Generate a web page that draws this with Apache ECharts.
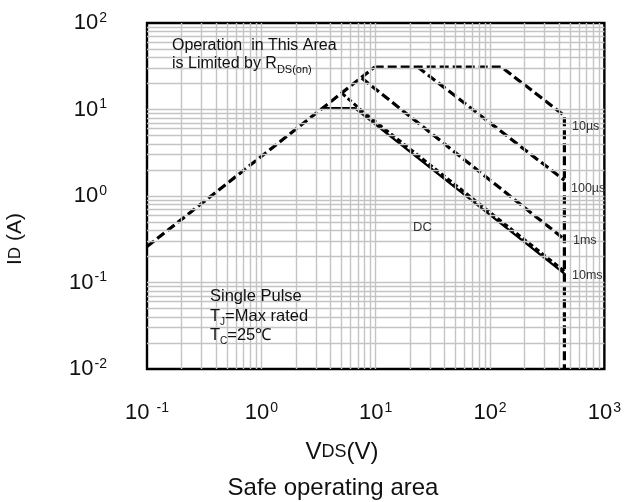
<!DOCTYPE html>
<html>
<head>
<meta charset="utf-8">
<script src="https://cdn.jsdelivr.net/npm/echarts@6/dist/echarts.min.js"></script>
<style>html,body{margin:0;padding:0;background:#fff}#c{width:624px;height:502px}</style>
</head>
<body>
<div id="c"></div>
<script>
// ---- data ----
const rdsV = [0.1, 9.8];
const rdsI = [0.26, 31];
const us10V = [9.8, 126, 447, 447];
const us10I = [31, 31, 8.5, 0.01];
const us100V = [23.3, 447];
const us100I = [31, 1.52];
const ms1V = [7.55, 447];
const ms1I = [23.1, 0.316];
const ms10V = [5.05, 7.6, 447];
const ms10I = [15.5, 9.6, 0.135];
const dcV = [3.44, 6.56, 447];
const dcI = [10.4, 10.4, 0.127];

const xTickVals = [0.1, 1, 10, 100, 1000];
const xTickExp = ['-1', '0', '1', '2', '3'];
const yTickVals = [0.01, 0.1, 1, 10, 100];
const yTickExp = ['-2', '-1', '0', '1', '2'];
const curveLabels = ['10µs', '100µs', '1ms', '10ms'];

// grid line positions (styling of the log grid)
const gridMult = [1, 2, 3, 4, 5, 6, 7, 8, 9];
function gridValues(lo, hi) {
  const out = [];
  for (let e = lo; e < hi; e++) gridMult.forEach(m => out.push(m * Math.pow(10, e)));
  return out;
}
const vLines = gridValues(-1, 3).slice(1);
const hLines = gridValues(-2, 2).slice(1);

const FONT = '"Liberation Sans", Arial, Helvetica, sans-serif';
const zip = (a, b) => a.map((v, i) => [v, b[i]]);

function idx(arr, v) {
  let best = 0, bd = Infinity;
  arr.forEach((a, i) => { const d = Math.abs(Math.log10(a) - Math.log10(v)); if (d < bd) { bd = d; best = i; } });
  return best;
}

const dashStyle = { color: '#000', width: 3.2, type: [9, 4], cap: 'butt' };

const chart = echarts.init(document.getElementById('c'), null, { renderer: 'canvas' });
chart.setOption({
  animation: false,
  backgroundColor: '#fff',
  grid: { left: 147, right: 19, top: 23, bottom: 133, show: true, borderColor: '#000', borderWidth: 2.4, backgroundColor: 'transparent', z: 5 },
  xAxis: {
    type: 'log', logBase: 10, min: 0.1, max: 1000,
    axisLine: { show: false }, axisTick: { show: false }, splitLine: { show: false },
    axisLabel: {
      margin: 32, color: '#111', fontFamily: FONT,
      formatter: v => { const i = idx(xTickVals, v); const e = xTickExp[i]; return '{b|' + (e === '-1' ? '10 ' : '10') + '}{s|' + e + '}'; },
      rich: {
        b: { fontSize: 22, fontFamily: FONT, color: '#111', lineHeight: 24 },
        s: { fontSize: 14, fontFamily: FONT, color: '#111', lineHeight: 13, verticalAlign: 'top', padding: [0, 0, 0, 1] }
      }
    }
  },
  yAxis: {
    type: 'log', logBase: 10, min: 0.01, max: 100,
    axisLine: { show: false }, axisTick: { show: false }, splitLine: { show: false },
    axisLabel: {
      margin: 40, color: '#111', fontFamily: FONT,
      formatter: v => { const i = idx(yTickVals, v); return '{b|10}{s|' + yTickExp[i] + '}'; },
      rich: {
        b: { fontSize: 22, fontFamily: FONT, color: '#111', lineHeight: 24 },
        s: { fontSize: 14, fontFamily: FONT, color: '#111', lineHeight: 13, verticalAlign: 'top', padding: [0, 0, 0, 1] }
      }
    }
  },
  series: [
    {
      type: 'line', data: [], silent: true, z: 1,
      markLine: {
        silent: true, symbol: ['none', 'none'], animation: false,
        label: { show: false },
        lineStyle: { type: 'solid', color: '#c4c4c4', width: 1.4 },
        data: vLines.map(v => ({ xAxis: v })).concat(hLines.map(v => ({ yAxis: v })))
      }
    },
    { type: 'line', data: zip(rdsV, rdsI), symbol: 'none', lineStyle: dashStyle, z: 3 },
    { type: 'line', data: zip(us10V, us10I), symbol: 'none', lineStyle: dashStyle, z: 3 },
    { type: 'line', data: zip(us100V, us100I), symbol: 'none', lineStyle: dashStyle, z: 3 },
    { type: 'line', data: zip(ms1V, ms1I), symbol: 'none', lineStyle: dashStyle, z: 3 },
    { type: 'line', data: zip(dcV, dcI), symbol: 'none', lineStyle: { color: '#000', width: 2.2, type: 'solid' }, z: 3 },
    { type: 'line', data: zip(ms10V, ms10I), symbol: 'none', lineStyle: { color: '#000', width: 3, type: [5, 3] }, z: 3 }
  ],
  graphic: [
    { type: 'text', x: 15, y: 239, rotation: Math.PI / 2,
      style: { text: '{a|I}{d|D}{a| (A)}', align: 'center', verticalAlign: 'middle',
        rich: { a: { fontSize: 21, fontFamily: FONT, fill: '#111' }, d: { fontSize: 17, fontFamily: FONT, fill: '#111' } } } },
    { type: 'text', x: 342, y: 452,
      style: { text: '{a|V}{d|DS}{a|(V)}', align: 'center', verticalAlign: 'middle',
        rich: { a: { fontSize: 24, fontFamily: FONT, fill: '#111' }, d: { fontSize: 18, fontFamily: FONT, fill: '#111' } } } },
    { type: 'text', x: 333, y: 488,
      style: { text: 'Safe operating area', align: 'center', verticalAlign: 'middle', fontSize: 24, fontFamily: FONT, fill: '#111' } },
    { type: 'text', x: 172, y: 46, z: 10,
      style: { text: 'Operation  in This Area', align: 'left', verticalAlign: 'middle', fontSize: 16, fontFamily: FONT, fill: '#111' } },
    { type: 'text', x: 172, y: 64, z: 10,
      style: { text: '{n|is Limited by R}{s|DS(on)}', align: 'left', verticalAlign: 'middle',
        rich: { n: { fontSize: 16, fontFamily: FONT, fill: '#111', lineHeight: 17 }, s: { fontSize: 11, fontFamily: FONT, fill: '#111', lineHeight: 11, verticalAlign: 'bottom', padding: [0, 0, -3, 0] } } } },
    { type: 'text', x: 210, y: 296, z: 10,
      style: { text: 'Single Pulse', align: 'left', verticalAlign: 'middle', fontSize: 16.5, fontFamily: FONT, fill: '#111' } },
    { type: 'text', x: 210, y: 316, z: 10,
      style: { text: '{n|T}{s|J}{n|=Max rated}', align: 'left', verticalAlign: 'middle',
        rich: { n: { fontSize: 16.5, fontFamily: FONT, fill: '#111', lineHeight: 17 }, s: { fontSize: 10, fontFamily: FONT, fill: '#111', lineHeight: 10, verticalAlign: 'bottom', padding: [0, 0, -3, 0] } } } },
    { type: 'text', x: 210, y: 335, z: 10,
      style: { text: '{n|T}{s|C}{n|=25℃}', align: 'left', verticalAlign: 'middle',
        rich: { n: { fontSize: 16.5, fontFamily: FONT, fill: '#111', lineHeight: 17 }, s: { fontSize: 10, fontFamily: FONT, fill: '#111', lineHeight: 10, verticalAlign: 'bottom', padding: [0, 0, -3, 0] } } } },
    { type: 'text', x: 413, y: 227, z: 10,
      style: { text: 'DC', align: 'left', verticalAlign: 'middle', fontSize: 13, fontFamily: FONT, fill: '#333' } },
    { type: 'text', x: 572, y: 127, z: 10,
      style: { text: curveLabels[0], align: 'left', verticalAlign: 'middle', fontSize: 12.5, fontFamily: FONT, fill: '#333' } },
    { type: 'text', x: 571, y: 189, z: 10,
      style: { text: curveLabels[1], align: 'left', verticalAlign: 'middle', fontSize: 12.5, fontFamily: FONT, fill: '#333' } },
    { type: 'text', x: 573, y: 241, z: 10,
      style: { text: curveLabels[2], align: 'left', verticalAlign: 'middle', fontSize: 12.5, fontFamily: FONT, fill: '#333' } },
    { type: 'text', x: 572, y: 276, z: 10,
      style: { text: curveLabels[3], align: 'left', verticalAlign: 'middle', fontSize: 12.5, fontFamily: FONT, fill: '#333' } }
  ]
});
</script>
</body>
</html>
